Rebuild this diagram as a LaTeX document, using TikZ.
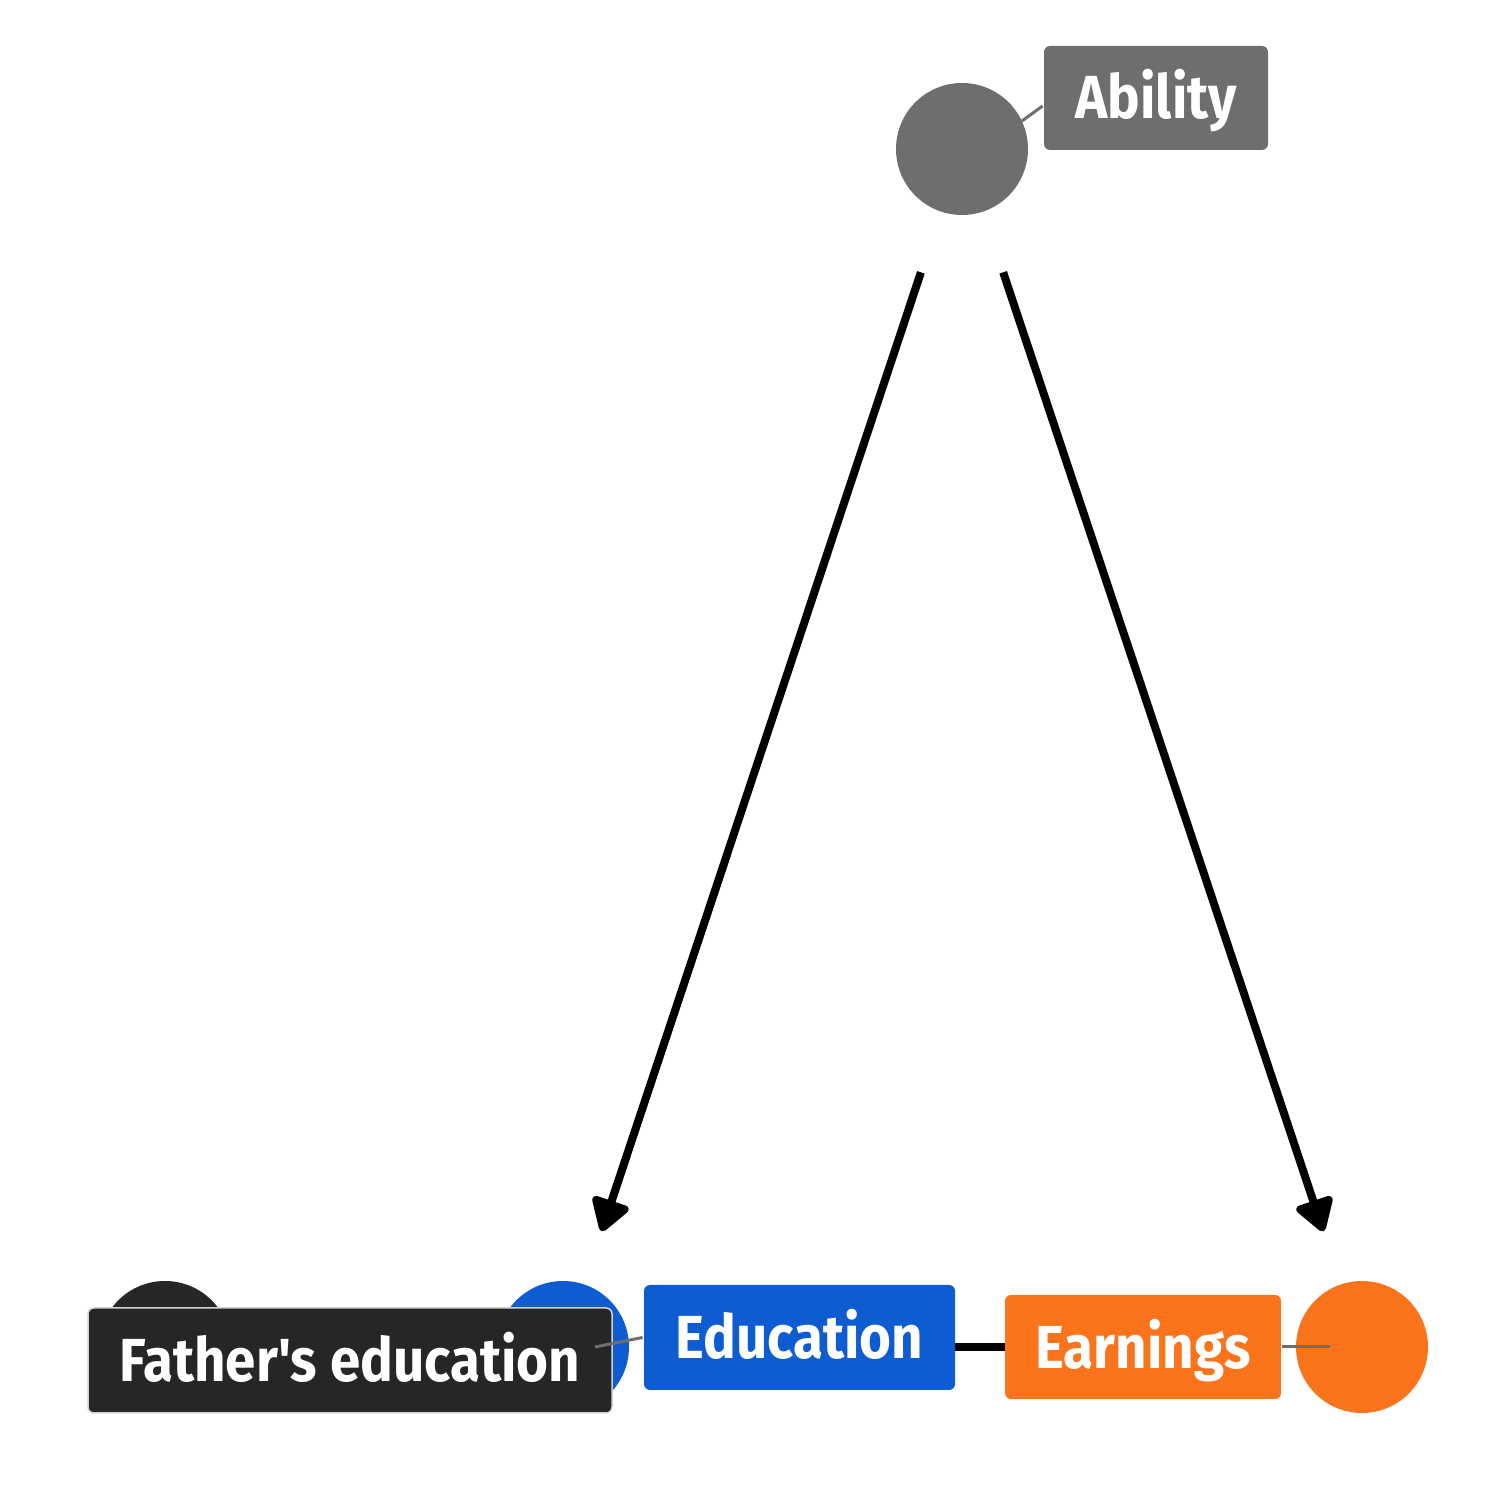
\documentclass[tikz,border=0pt]{standalone}
\usepackage{fontspec}
\usepackage{tikz}
\usepackage{xcolor}
\usetikzlibrary{arrows.meta}

\newfontfamily\dagfont{Fira Sans}[FakeStretch=0.9]
\definecolor{abilgray}{HTML}{6E6E6E}
\definecolor{fathblack}{HTML}{262626}
\definecolor{edublue}{HTML}{0E5CD1}
\definecolor{earnorange}{HTML}{FB731B}

\begin{document}
\begin{tikzpicture}[thick, >={Triangle[length=0.36cm, width=0.42cm, round]},
    dot/.style={circle, fill=#1, minimum size=1.32cm, inner sep=0pt, outer sep=0pt},
    lab/.style={fill=#1, text=white, rounded corners=0.06cm, minimum height=1.04cm, inner sep=0pt,
        text height=0.42cm, text depth=0pt, font=\dagfont\bfseries\fontsize{17.3}{20}\selectfont},
    causal/.style={->, line width=0.08cm, shorten <=0.64cm, shorten >=0.56cm},
    seg/.style={abilgray, line width=0.03cm}]
    \useasboundingbox (0,0) rectangle (15.12,15.12);
    % nodes of the DAG
    \node[dot=abilgray] (abil) at (9.62,13.63) {};
    \node[dot=fathblack] (fedu) at (1.65,1.65) {};
    \node[dot=edublue] (edu) at (5.63,1.65) {};
    \node[dot=earnorange] (earn) at (13.62,1.65) {};
    % causal paths
    \draw[causal] (abil) -- (edu);
    \draw[causal] (abil) -- (earn);
    \draw[causal] (edu) -- (earn);
    % labels
    \node[lab=abilgray, minimum width=2.24cm] (abilL) at (11.56,14.14) {Ability};
    \node[lab=fathblack, minimum width=5.24cm, minimum height=1.05cm, draw=gray!35, line width=0.015cm] (feduL) at (3.50,1.515) {Father's education};
    \node[lab=edublue, minimum width=3.11cm, minimum height=1.05cm] (eduL) at (7.995,1.745) {Education};
    \node[lab=earnorange, minimum width=2.76cm] (earnL) at (11.43,1.65) {Earnings};
    % label segments
    \draw[seg] (abil.25) -- ([yshift=-0.08cm]abilL.west);
    \draw[seg] ([xshift=0.32cm]edu.center) -- (eduL.west);
    \draw[seg] (earnL.east) -- ([xshift=-0.32cm]earn.center);
\end{tikzpicture}
\end{document}
